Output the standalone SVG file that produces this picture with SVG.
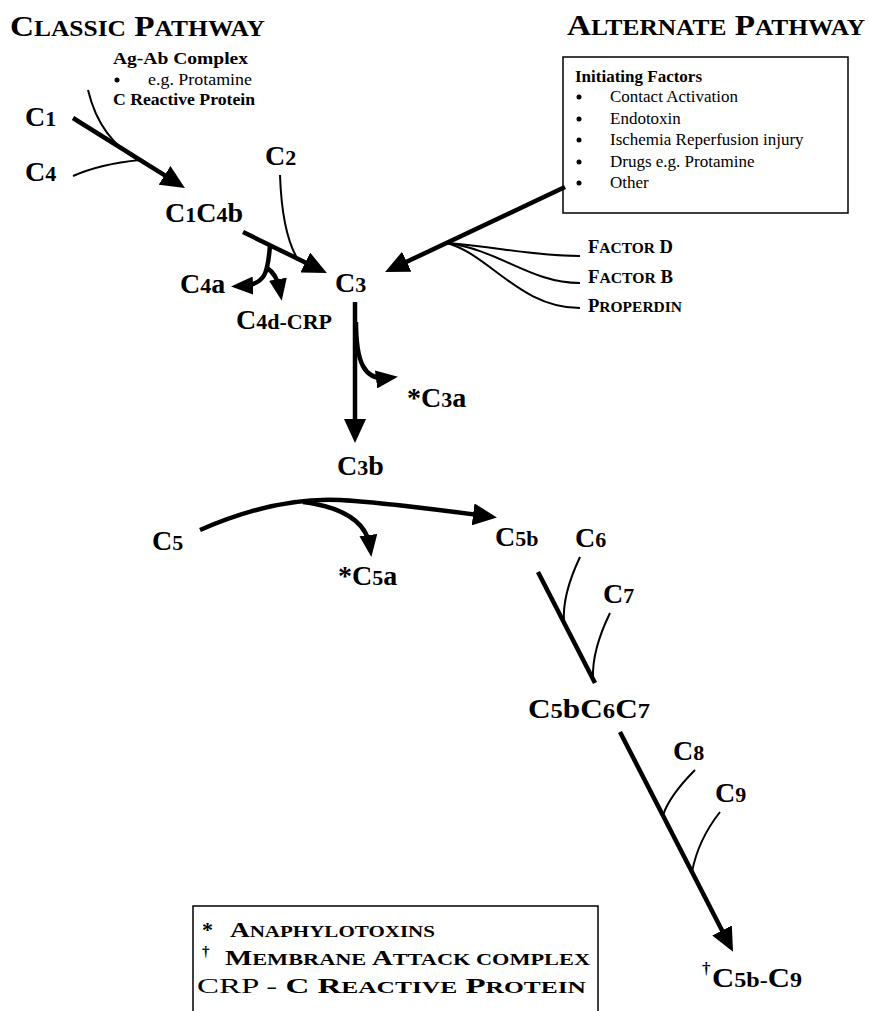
<svg xmlns="http://www.w3.org/2000/svg" width="869" height="1011" viewBox="0 0 869 1011">
<defs>
<style>
text{font-family:"Liberation Serif","Times New Roman",serif;fill:#000}
.b{font-weight:bold}
.ttl{font-weight:bold;font-size:30px}
.sc{font-size:23px}
.lbl{font-weight:bold;font-size:28px}
.d{font-size:22px}
.sm{font-size:17px}
.fac{font-weight:bold;font-size:18px}
.fsc{font-size:15px}
.box{font-size:17px}
.leg{font-weight:bold;font-size:22px}
.lsc{font-size:17px}
.thick{fill:none;stroke:#000;stroke-width:4.5}
.thin{fill:none;stroke:#000;stroke-width:2}
.frame{fill:none;stroke:#000;stroke-width:1.5}
</style>
<marker id="ah" viewBox="0 0 24 22" refX="13" refY="11" markerWidth="24" markerHeight="22" markerUnits="userSpaceOnUse" orient="auto">
<path d="M0,0 L24,11 L0,22 Z" fill="#000"/>
</marker>
<marker id="ahs" viewBox="0 0 22 18" refX="12" refY="9" markerWidth="22" markerHeight="18" markerUnits="userSpaceOnUse" orient="auto">
<path d="M0,0 L22,9 L0,18 Z" fill="#000"/>
</marker>
</defs>
<rect width="869" height="1011" fill="#fff"/>

<g id="titles">
<text class="ttl" x="10" y="36" textLength="255" lengthAdjust="spacingAndGlyphs">C<tspan class="sc">LASSIC</tspan> P<tspan class="sc">ATHWAY</tspan></text>
<text class="ttl" x="567" y="35" textLength="298" lengthAdjust="spacingAndGlyphs">A<tspan class="sc">LTERNATE</tspan> P<tspan class="sc">ATHWAY</tspan></text>
</g>

<g id="connectors">
<path class="thick" d="M73,118 L175.6,182.2" marker-end="url(#ah)"/>
<path class="thin" d="M88,90 Q100,140 140,161"/>
<path class="thin" d="M73,176 Q100,164 140,160"/>
<path class="thick" d="M243,232 L317,268.2" marker-end="url(#ah)"/>
<path class="thin" d="M280,175 Q282,232 297,258"/>
<path class="thick" d="M270,245 C268,272 266,285 241,286" marker-end="url(#ahs)"/>
<path class="thick" d="M267,268 Q277,274 280,291" marker-end="url(#ahs)"/>
<path class="thick" d="M565,187 L395,267.3" marker-end="url(#ah)"/>
<path class="thin" d="M447,243 C500,247 530,256 580,256"/>
<path class="thin" d="M447,243 C500,250 530,283 580,283"/>
<path class="thin" d="M447,243 C490,255 520,308 580,308"/>
<path class="thick" d="M355,302 L355,432" marker-end="url(#ah)"/>
<path class="thick" d="M356,322 C356,362 364,381 388,378" marker-end="url(#ahs)"/>
<path class="thick" d="M200,530 C255,506 300,498 340,500 S440,510 486,516" marker-end="url(#ah)"/>
<path class="thick" d="M303,502 Q365,510 370,547" marker-end="url(#ahs)"/>
<path class="thick" d="M538,572 L595,683"/>
<path class="thin" d="M580,557 Q562,595 564,622"/>
<path class="thin" d="M610,613 Q592,650 593,678"/>
<path class="thick" d="M620,732 L728,942" marker-end="url(#ah)"/>
<path class="thin" d="M695,770 Q670,795 663,815"/>
<path class="thin" d="M720,812 Q698,840 692,872"/>
</g>

<g id="agab">
<text class="b sm" x="113" y="64" textLength="135" lengthAdjust="spacingAndGlyphs">Ag-Ab Complex</text>
<circle cx="117" cy="80" r="2.5" fill="#000"/>
<text class="sm" x="148" y="85" textLength="104" lengthAdjust="spacingAndGlyphs">e.g. Protamine</text>
<text class="b sm" x="113" y="105" textLength="142" lengthAdjust="spacingAndGlyphs">C Reactive Protein</text>
</g>

<g id="initiating">
<rect class="frame" x="563" y="57" width="285" height="156"/>
<text class="b box" x="575" y="82">Initiating Factors</text>
<g fill="#000">
<circle cx="579" cy="97" r="2.5"/>
<circle cx="579" cy="119" r="2.5"/>
<circle cx="579" cy="140" r="2.5"/>
<circle cx="579" cy="162" r="2.5"/>
<circle cx="579" cy="183" r="2.5"/>
</g>
<text class="box" x="610" y="102">Contact Activation</text>
<text class="box" x="610" y="124">Endotoxin</text>
<text class="box" x="610" y="145">Ischemia Reperfusion injury</text>
<text class="box" x="610" y="167">Drugs e.g. Protamine</text>
<text class="box" x="610" y="188">Other</text>
</g>

<g id="n-c1"><text class="lbl" x="25" y="126">C<tspan class="d">1</tspan></text></g>
<g id="n-c4"><text class="lbl" x="25" y="181">C<tspan class="d">4</tspan></text></g>
<g id="n-c1c4b"><text class="lbl" x="165" y="222">C<tspan class="d">1</tspan>C<tspan class="d">4</tspan>b</text></g>
<g id="n-c2"><text class="lbl" x="265" y="165">C<tspan class="d">2</tspan></text></g>
<g id="n-c4a"><text class="lbl" x="180" y="293">C<tspan class="d">4</tspan>a</text></g>
<g id="n-c4d"><text class="lbl" x="236" y="329">C<tspan class="d">4d-CRP</tspan></text></g>
<g id="n-c3"><text class="lbl" x="335" y="292">C<tspan class="d">3</tspan></text></g>
<g id="n-c3a"><text class="lbl" x="407" y="407">*C<tspan class="d">3</tspan>a</text></g>
<g id="n-c3b"><text class="lbl" x="337" y="475">C<tspan class="d">3</tspan>b</text></g>
<g id="n-c5"><text class="lbl" x="152" y="550">C<tspan class="d">5</tspan></text></g>
<g id="n-c5a"><text class="lbl" x="338" y="585">*C<tspan class="d">5</tspan>a</text></g>
<g id="n-c5b"><text class="lbl" x="495" y="546">C<tspan class="d">5b</tspan></text></g>
<g id="n-c6"><text class="lbl" x="575" y="547">C<tspan class="d">6</tspan></text></g>
<g id="n-c7"><text class="lbl" x="603" y="603">C<tspan class="d">7</tspan></text></g>
<g id="n-c5bc6c7"><text class="lbl" x="528" y="718" textLength="122" lengthAdjust="spacingAndGlyphs">C<tspan class="d">5</tspan>bC<tspan class="d">6</tspan>C<tspan class="d">7</tspan></text></g>
<g id="n-c8"><text class="lbl" x="673" y="760">C<tspan class="d">8</tspan></text></g>
<g id="n-c9"><text class="lbl" x="715" y="802">C<tspan class="d">9</tspan></text></g>
<g id="n-mac"><text class="b" x="702" y="974" font-size="17">†</text><text class="lbl" x="712" y="987" textLength="90" lengthAdjust="spacingAndGlyphs">C<tspan class="d">5b-</tspan>C<tspan class="d">9</tspan></text></g>

<g id="factors">
<text class="fac" x="588" y="253" textLength="85" lengthAdjust="spacingAndGlyphs">F<tspan class="fsc">ACTOR</tspan> D</text>
<text class="fac" x="588" y="283" textLength="85" lengthAdjust="spacingAndGlyphs">F<tspan class="fsc">ACTOR</tspan> B</text>
<text class="fac" x="588" y="312" textLength="94" lengthAdjust="spacingAndGlyphs">P<tspan class="fsc">ROPERDIN</tspan></text>
</g>

<g id="legend">
<path class="frame" d="M193,1011 L193,906 L598,906 L598,1011"/>
<text class="leg" x="202" y="937">*</text>
<text class="leg" x="230" y="937" textLength="205" lengthAdjust="spacingAndGlyphs">A<tspan class="lsc">NAPHYLOTOXINS</tspan></text>
<text class="b" x="202" y="956" font-size="15">†</text>
<text class="leg" x="225" y="965" textLength="365" lengthAdjust="spacingAndGlyphs">M<tspan class="lsc">EMBRANE</tspan> A<tspan class="lsc">TTACK COMPLEX</tspan></text>
<text x="197" y="993" font-size="22" textLength="389" lengthAdjust="spacingAndGlyphs">CRP - <tspan class="b">C R<tspan class="lsc">EACTIVE</tspan> P<tspan class="lsc">ROTEIN</tspan></tspan></text>
</g>
</svg>
